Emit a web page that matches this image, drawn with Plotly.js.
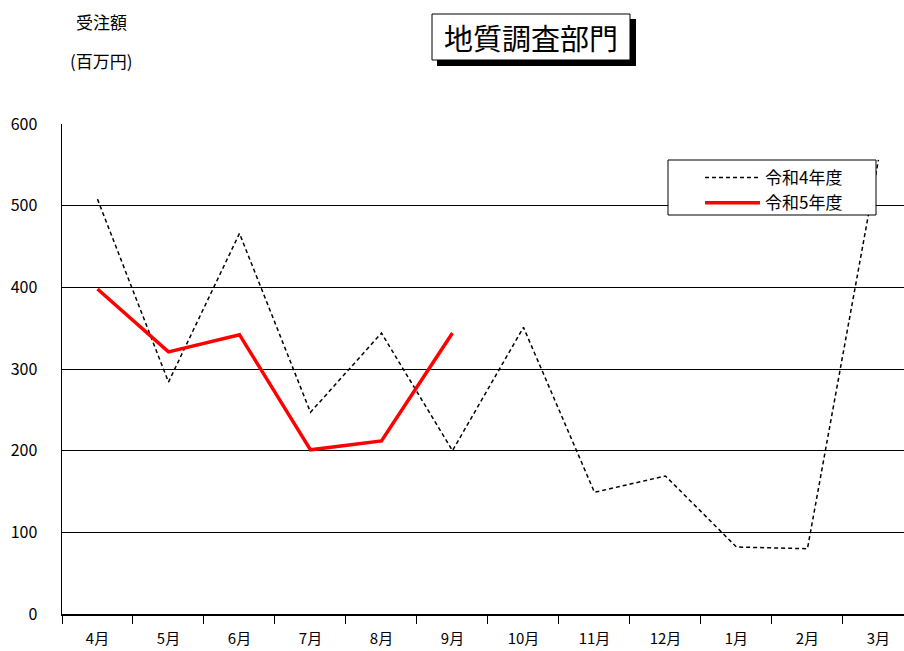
<!DOCTYPE html>
<html><head><meta charset="utf-8">
<script src="https://cdn.plot.ly/plotly-3.0.1.min.js"></script>
<style>html,body{margin:0;padding:0;background:#fff}</style>
</head><body><div id="chart" style="width:904px;height:651px"></div>
<script>
const months = ["4月","5月","6月","7月","8月","9月","10月","11月","12月","1月","2月","3月"];
const r4 = [508, 284, 466, 247, 344, 200, 351, 149, 169, 82, 80, 556];
const r5 = [398, 321, 342, 201, 212, 344];
const seriesNames = ["令和4年度", "令和5年度"];
const yTicks = [0, 100, 200, 300, 400, 500, 600];

const F = '"Noto Sans CJK JP", "DejaVu Sans", sans-serif';
const L = 62, T = 124, W = 842, H = 490;
const px = x => (x - L) / W;
const py = y => (T + H - y) / H;

const traces = [
  {x: months, y: r4, name: seriesNames[0], type: 'scatter', mode: 'lines',
   line: {color: '#000', width: 1.5, dash: '4px,3px'}, cliponaxis: false},
  {x: months.slice(0, r5.length), y: r5, name: seriesNames[1], type: 'scatter', mode: 'lines',
   line: {color: '#ff0000', width: 3.5}, cliponaxis: false}
];

const layout = {
  width: 904, height: 651,
  margin: {l: L, r: 0, t: T, b: 651 - T - H},
  paper_bgcolor: '#fff', plot_bgcolor: '#fff',
  font: {family: F, size: 15, color: '#000'},
  showlegend: true,
  legend: {x: px(700), y: py(160), xanchor: 'left', yanchor: 'top',
    bgcolor: 'rgba(0,0,0,0)', borderwidth: 0,
    font: {family: F, size: 17, color: '#000'}, itemwidth: 55},
  xaxis: {type: 'category', range: [-0.5, 11.36], fixedrange: true,
    tickson: 'boundaries', ticks: 'outside', ticklen: 8, tickcolor: '#000', tickwidth: 1,
    showline: true, linecolor: '#000', linewidth: 1.5, showgrid: false, zeroline: false,
    ticklabelstandoff: 10, tickfont: {family: F, size: 15, color: '#000'}},
  yaxis: {range: [0, 600], tickvals: yTicks, ticktext: yTicks.map(String), fixedrange: true,
    showline: true, linecolor: '#000', linewidth: 1.5, ticks: '',
    showgrid: true, gridcolor: '#000', gridwidth: 1, zeroline: false,
    ticklabelstandoff: 20, tickfont: {family: F, size: 16, color: '#000'}},
  shapes: [
    {type: 'rect', xref: 'paper', yref: 'paper', x0: px(668), x1: px(876), y0: py(215), y1: py(160),
     fillcolor: '#fff', line: {color: '#000', width: 1}, layer: 'above'},
    {type: 'rect', xref: 'paper', yref: 'paper', x0: px(437), x1: px(636), y0: py(66), y1: py(19),
     fillcolor: '#000', line: {width: 0}, layer: 'above'},
    {type: 'rect', xref: 'paper', yref: 'paper', x0: px(432), x1: px(630), y0: py(60), y1: py(14),
     fillcolor: '#fff', line: {color: '#000', width: 1}, layer: 'above'}
  ],
  annotations: [
    {text: '地質調査部門', xref: 'paper', yref: 'paper', x: px(531), y: py(37),
     xanchor: 'center', yanchor: 'middle', showarrow: false,
     font: {family: F, size: 29, color: '#000'}},
    {text: '受注額', xref: 'paper', yref: 'paper', x: px(74), y: py(22),
     xanchor: 'left', yanchor: 'middle', showarrow: false,
     font: {family: F, size: 17, color: '#000'}},
    {text: '(百万円)', xref: 'paper', yref: 'paper', x: px(68), y: py(60),
     xanchor: 'left', yanchor: 'middle', showarrow: false,
     font: {family: F, size: 17, color: '#000'}}
  ]
};

Plotly.newPlot('chart', traces, layout, {displayModeBar: false, staticPlot: true});
</script></body></html>
